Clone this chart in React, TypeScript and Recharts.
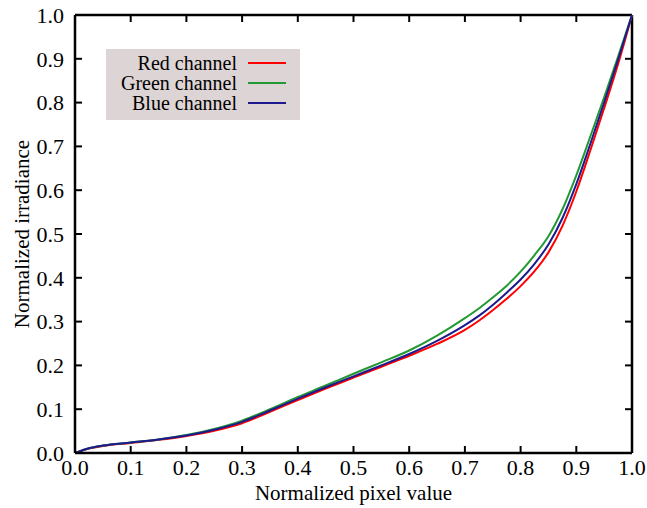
import { ComposedChart, Line, Scatter, XAxis, YAxis, ReferenceLine } from 'recharts'

// values
const pixelValue = [0, 0.025, 0.05, 0.1, 0.15, 0.2, 0.25, 0.3, 0.35, 0.4, 0.45, 0.5, 0.55, 0.6, 0.65, 0.7,
  0.725, 0.75, 0.775, 0.8, 0.825, 0.85, 0.875, 0.9, 0.925, 0.95, 0.975, 1.0]
const redChannel = [0, 0.010, 0.016, 0.023, 0.030, 0.039, 0.051, 0.068, 0.094, 0.121, 0.147, 0.172, 0.197, 0.222, 0.249, 0.281,
  0.302, 0.326, 0.352, 0.381, 0.415, 0.458, 0.518, 0.597, 0.690, 0.787, 0.888, 1.0]
const greenChannel = [0, 0.011, 0.017, 0.024, 0.031, 0.041, 0.055, 0.074, 0.100, 0.128, 0.154, 0.181, 0.207, 0.234, 0.268, 0.308,
  0.330, 0.355, 0.382, 0.414, 0.452, 0.495, 0.556, 0.634, 0.722, 0.812, 0.905, 1.0]
const blueChannel = [0, 0.011, 0.017, 0.024, 0.031, 0.040, 0.053, 0.071, 0.097, 0.124, 0.150, 0.175, 0.200, 0.226, 0.256, 0.292,
  0.313, 0.338, 0.366, 0.396, 0.432, 0.476, 0.536, 0.614, 0.705, 0.800, 0.898, 1.0]
const ticks = [0, 0.1, 0.2, 0.3, 0.4, 0.5, 0.6, 0.7, 0.8, 0.9, 1.0]

const series = [
  { key: 'red', name: 'Red channel', color: '#ff0000' },
  { key: 'green', name: 'Green channel', color: '#229933' },
  { key: 'blue', name: 'Blue channel', color: '#1c1a8c' },
]

const data = pixelValue.map((x, i) => ({
  x,
  red: redChannel[i],
  green: greenChannel[i],
  blue: blueChannel[i],
}))

const FONT = '"Liberation Serif", "DejaVu Serif", serif'
const tickStyle = { fontSize: 22, fill: '#000', fontFamily: FONT }
const axisLine = { stroke: '#000', strokeWidth: 2.5 }
const fmt = (v: number) => v.toFixed(1)

// inward tick marks on the four sides of the frame, placed by the chart scales
const inner = ticks.slice(1, -1)
const TICK = 7
const frameSides = [
  { id: 'bottom', pts: inner.map(t => ({ x: t, tk: 0 })), dx: 0, dy: -TICK },
  { id: 'top', pts: inner.map(t => ({ x: t, tk: 1 })), dx: 0, dy: TICK },
  { id: 'left', pts: inner.map(t => ({ x: 0, tk: t })), dx: TICK, dy: 0 },
  { id: 'right', pts: inner.map(t => ({ x: 1, tk: t })), dx: -TICK, dy: 0 },
]

const tickShape = (dx: number, dy: number) => (p: any) => (
  <line x1={p.cx} y1={p.cy} x2={p.cx + dx} y2={p.cy + dy} stroke="#000" strokeWidth={2} />
)

function YLabel({ viewBox }: any) {
  const cx = viewBox.x + 7
  const cy = viewBox.y + viewBox.height / 2
  return (
    <text x={cx} y={cy} transform={`rotate(-90, ${cx}, ${cy})`} textAnchor="middle" dominantBaseline="central"
      style={{ fontSize: 21, fontFamily: FONT, fill: '#000' }}>
      Normalized irradiance
    </text>
  )
}

function XLabel({ viewBox }: any) {
  return (
    <text x={viewBox.x + viewBox.width / 2} y={viewBox.y + 47} textAnchor="middle"
      style={{ fontSize: 21, fontFamily: FONT, fill: '#000' }}>
      Normalized pixel value
    </text>
  )
}

export default function App() {
  return (
    <div style={{ position: 'absolute', left: 0, top: 0, width: 647, height: 508, background: '#fff' }}>
      <ComposedChart width={647} height={508} data={data} margin={{ top: 15, right: 15, bottom: 15, left: 15 }}>
        <XAxis xAxisId="b" dataKey="x" type="number" domain={[0, 1]} ticks={ticks} tickFormatter={fmt}
          height={40} tick={tickStyle} axisLine={axisLine} tickLine={false} tickMargin={0}
          interval={0} label={<XLabel />} />
        <YAxis yAxisId="l" type="number" domain={[0, 1]} ticks={ticks} tickFormatter={fmt}
          width={60} tick={tickStyle} axisLine={axisLine} tickLine={false} tickMargin={5}
          interval={0} label={<YLabel />} />
        <ReferenceLine xAxisId="b" yAxisId="l" y={1} stroke="#000" strokeWidth={2.5} />
        <ReferenceLine xAxisId="b" yAxisId="l" x={1} stroke="#000" strokeWidth={2.5} />
        {frameSides.map(s => (
          <Scatter key={s.id} xAxisId="b" yAxisId="l" data={s.pts} dataKey="tk" legendType="none"
            shape={tickShape(s.dx, s.dy)} isAnimationActive={false} />
        ))}
        {series.map(s => (
          <Line key={s.key} xAxisId="b" yAxisId="l" type="monotone" dataKey={s.key} name={s.name}
            stroke={s.color} strokeWidth={2} dot={false} isAnimationActive={false} />
        ))}
      </ComposedChart>
      <div style={{
        position: 'absolute', left: 106, top: 49, width: 194, height: 71, background: '#ddd5d5',
        paddingTop: 4, boxSizing: 'border-box', fontFamily: FONT, fontSize: 20,
      }}>
        {series.map(s => (
          <div key={s.key} style={{ height: 20, display: 'flex', justifyContent: 'flex-end', alignItems: 'center' }}>
            <span style={{ lineHeight: '20px' }}>{s.name}</span>
            <span style={{ width: 38, height: 2, background: s.color, marginLeft: 11, marginRight: 14 }} />
          </div>
        ))}
      </div>
    </div>
  )
}
